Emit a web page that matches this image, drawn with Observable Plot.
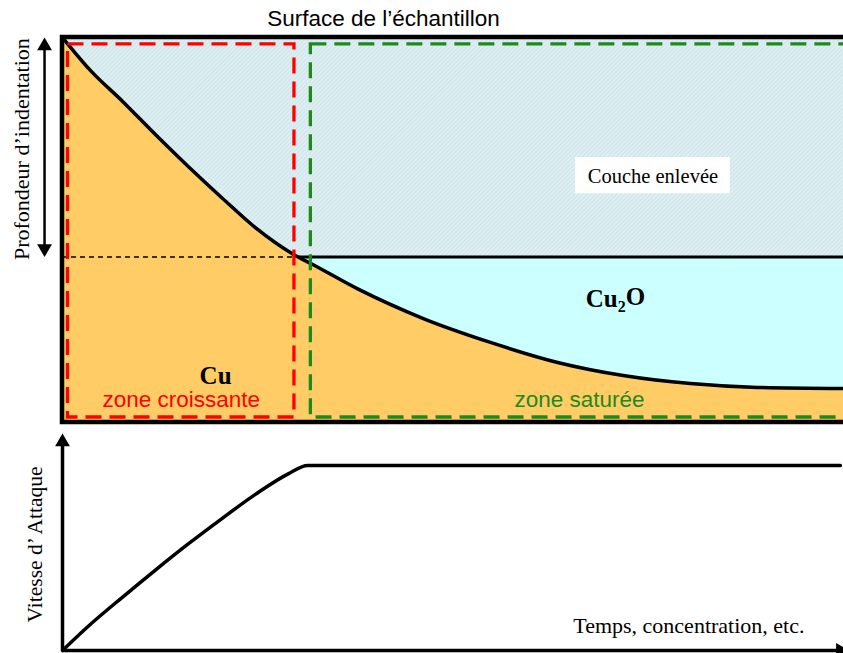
<!DOCTYPE html>
<html>
<head>
<meta charset="utf-8">
<script src="https://cdn.jsdelivr.net/npm/d3@7"></script>
<script src="https://cdn.jsdelivr.net/npm/@observablehq/plot@0.6"></script>
<style>
html, body { margin: 0; padding: 0; background: #fff; overflow: hidden; }
#chart svg { display: block; }
</style>
</head>
<body>
<div id="chart"></div>
<script>
// ---------- DATA ----------
// Upper panel: interface Cu / Cu2O (time in % of axis, depth in % of box)
const curveT     = [0, 3.6, 7.7, 11.9, 16.1, 20.5, 24.7, 29.8, 31.8, 37.8, 46.2, 54.8, 63.4, 71.8, 80.4, 89.0, 100];
const curveDepth = [0, 8.6, 16.6, 25.2, 33.5, 41.8, 49.4, 56.6, 58.7, 65.3, 73.0, 79.2, 84.4, 87.8, 89.9, 90.9, 91.2];
const oxideSurface = 57;      // depth of the Cu2O top surface (end of removed layer)
const oxideStartT  = 30.2;    // time at which the curve reaches that depth
const boxEnd = 102;           // box runs past the right edge

// Zones
const zoneLabels = ["zone croissante", "zone saturée"];
const zoneT1     = [0.7, 31.8];
const zoneT2     = [29.7, 103];
const zoneDepth1 = [1.8, 1.8];
const zoneDepth2 = [98.7, 98.7];
const zoneLabelT = [15.2, 66.2];
const zoneLabelDepth = [94.0, 94.0];

// Text annotations of the upper panel
const topLabels      = ["Couche enlevée", "Cu₂O", "Cu"];
const topLabelT      = [75.6, 70.8, 19.6];
const topLabelDepth  = [36.0, 68.0, 88.0];
const titleText = "Surface de l’échantillon";
const depthAxisLabel = "Profondeur d’indentation";

// Lower panel: attack rate
const rateT = [0, 3.3, 7.7, 11.9, 16.1, 20.5, 24.7, 28.9, 31.4, 99.6];
const rateV = [0, 13.1, 28.9, 43.5, 57.6, 71.6, 84.4, 95.5, 100, 100];
const rateAxisLabel = "Vitesse d’ Attaque";
const timeAxisLabel = "Temps, concentration, etc.";

// ---------- BUILD ----------
const curve = curveT.map((t, i) => ({t, d: curveDepth[i]}));
const zones = zoneLabels.map((z, i) => ({z, t1: zoneT1[i], t2: zoneT2[i], d1: zoneDepth1[i], d2: zoneDepth2[i], lt: zoneLabelT[i], ld: zoneLabelDepth[i]}));
const tops = topLabels.map((s, i) => ({s, t: topLabelT[i], d: topLabelDepth[i]}));
const rate = rateT.map((t, i) => ({t, v: rateV[i]}));

const serif = "'Liberation Serif', 'Times New Roman', serif";
const sans = "'Liberation Sans', Arial, sans-serif";
const orange = "#FFCC66", cyan = "#CCFFFF";
const zoneColors = ["#FF0000", "#1E8A1E"];

const topPlot = Plot.plot({
  width: 843, height: 425,
  marginTop: 0, marginBottom: 0, marginLeft: 0, marginRight: 0,
  x: {domain: [0, 100], range: [62, 843], axis: null},
  y: {domain: [0, 100], range: [37, 422], axis: null},
  color: {domain: zoneLabels, range: zoneColors},
  marks: [
    Plot.rect([{t1: 0, t2: boxEnd, d1: 0, d2: 100}], {x1: "t1", x2: "t2", y1: "d1", y2: "d2", fill: "#D9ECEF"}),
    Plot.rect([{t1: oxideStartT, t2: boxEnd, d1: oxideSurface, d2: 100}], {x1: "t1", x2: "t2", y1: "d1", y2: "d2", fill: cyan}),
    Plot.areaY(curve, {x: "t", y1: "d", y2: 100, fill: orange, curve: "monotone-x"}),
    Plot.line(curve, {x: "t", y: "d", stroke: "black", strokeWidth: 3.5, curve: "monotone-x"}),
    Plot.ruleY([oxideSurface], {x1: oxideStartT, x2: boxEnd, stroke: "black", strokeWidth: 3}),
    Plot.ruleY([oxideSurface], {x1: 0, x2: oxideStartT, stroke: "black", strokeWidth: 1.5, strokeDasharray: "5,4"}),
    Plot.rect(zones, {x1: "t1", x2: "t2", y1: "d1", y2: "d2", fill: "none", stroke: "z", strokeWidth: 3.3, strokeDasharray: "16,8"}),
    Plot.rect([{t1: 0, t2: boxEnd, d1: 0, d2: 100}], {x1: "t1", x2: "t2", y1: "d1", y2: "d2", fill: "none", stroke: "black", strokeWidth: 4.5}),
    Plot.rect([{t1: 65.7, t2: 85.5, d1: 31.2, d2: 40.6}], {x1: "t1", x2: "t2", y1: "d1", y2: "d2", fill: "white"}),
    Plot.text(tops.slice(0, 1), {x: "t", y: "d", text: "s", fontFamily: serif, fontSize: 20.5, fill: "black"}),
    Plot.text(tops.slice(1), {x: "t", y: "d", text: "s", fontFamily: serif, fontSize: 25, fontWeight: "bold", fill: "black"}),
    Plot.text(zones, {x: "lt", y: "ld", text: "z", fill: "z", fontFamily: sans, fontSize: 22.5}),
    Plot.text([titleText], {x: 41.1, y: -4.8, text: d => d, fontFamily: sans, fontSize: 22.5, fill: "black"}),
    Plot.text([depthAxisLabel], {x: -5.2, y: 29.0, text: d => d, rotate: -90, fontFamily: serif, fontSize: 22, fill: "black"}),
    Plot.ruleX([-2.3], {y1: 2, y2: 55, stroke: "black", strokeWidth: 2.5}),
    Plot.dot([{t: -2.3, d: 2.2, r: 0}, {t: -2.3, d: 54.8, r: 180}], {x: "t", y: "d", rotate: "r", symbol: "triangle", r: 5.5, fill: "black", stroke: null})
  ]
});

const bottomPlot = Plot.plot({
  width: 843, height: 228,
  marginTop: 0, marginBottom: 0, marginLeft: 0, marginRight: 0,
  x: {domain: [0, 100], range: [62, 843], axis: null},
  y: {domain: [0, 100], range: [225, 40], axis: null},
  marks: [
    Plot.ruleX([0], {y1: 0, y2: 112, stroke: "black", strokeWidth: 3.5}),
    Plot.ruleY([0], {x1: 0, x2: 99.5, stroke: "black", strokeWidth: 3.5}),
    Plot.dot([{t: 0, v: 112.7, r: 0}, {t: 99.6, v: 0, r: 90}], {x: "t", y: "v", rotate: "r", symbol: "triangle", r: 5.5, fill: "black", stroke: null}),
    Plot.line(rate, {x: "t", y: "v", stroke: "black", strokeWidth: 3.5, curve: "monotone-x"}),
    Plot.text([rateAxisLabel], {x: -3.5, y: 57.3, text: d => d, rotate: -90, fontFamily: serif, fontSize: 21.5, fill: "black"}),
    Plot.text([timeAxisLabel], {x: 80.2, y: 13.5, text: d => d, fontFamily: serif, fontSize: 22, fill: "black"})
  ]
});

document.getElementById("chart").append(topPlot, bottomPlot);

// hatch pattern for the removed layer
const svgTop = d3.select(topPlot);
const pat = svgTop.insert("defs", ":first-child").append("pattern")
  .attr("id", "hatch").attr("patternUnits", "userSpaceOnUse")
  .attr("width", 3).attr("height", 3).attr("patternTransform", "rotate(45)");
pat.append("rect").attr("width", 3).attr("height", 3).attr("fill", "#DDEFF2");
pat.append("line").attr("x1", 0).attr("y1", 0).attr("x2", 0).attr("y2", 3).attr("stroke", "#C2D9DD").attr("stroke-width", 1);
svgTop.selectAll("[fill='#D9ECEF']").attr("fill", "url(#hatch)");
svgTop.selectAll("rect").filter(function() { return this.getAttribute("fill") === "#D9ECEF"; }).attr("fill", "url(#hatch)");

// real subscript for Cu2O
svgTop.selectAll("text").filter(function() { return this.textContent === "Cu₂O"; }).each(function() {
  const t = d3.select(this);
  t.text(null);
  t.append("tspan").text("Cu");
  t.append("tspan").attr("font-size", 16).attr("dy", "0.3em").text("2");
  t.append("tspan").attr("dy", "-0.3em").text("O");
});
</script>
</body>
</html>
